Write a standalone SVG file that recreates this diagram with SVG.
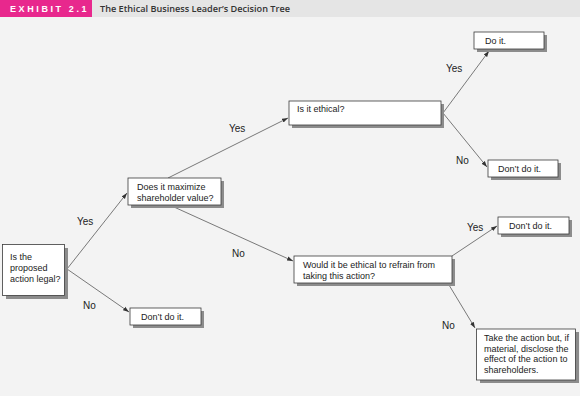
<svg xmlns="http://www.w3.org/2000/svg" width="580" height="396" viewBox="0 0 580 396">
<style>
.box{fill:#ffffff;stroke:#3a3a3a;stroke-width:0.8}
.sh{fill:#8c8c8c}
.t{font-family:"Liberation Sans",Arial,sans-serif;font-size:9px;fill:#222}
.lb{font-family:"Liberation Sans",Arial,sans-serif;font-size:10px;fill:#222}
.c{stroke:#444;stroke-width:0.7;fill:none;marker-end:url(#ah)}
</style>
<defs>
<marker id="ah" viewBox="0 0 10 10" refX="10" refY="5" markerWidth="6" markerHeight="6" orient="auto" markerUnits="userSpaceOnUse">
<path d="M0,1.5 L10,5 L0,8.5 z" fill="#333"/>
</marker>
</defs>
<rect x="0" y="0" width="580" height="396" fill="#f3f3f3"/>
<g id="header">
<rect x="0" y="0" width="580" height="17" fill="#e5e5e5"/>
<rect x="0" y="0" width="92" height="17" fill="#e8288d"/>
<text x="10" y="12.3" font-family="'Liberation Sans',Arial,sans-serif" font-size="9" font-weight="bold" fill="#ffffff" letter-spacing="2.6">EXHIBIT 2.1</text>
<text x="100" y="12.3" font-family="'Open Sans','Liberation Sans',Arial,sans-serif" font-size="9" font-weight="600" fill="#333" textLength="190" lengthAdjust="spacingAndGlyphs">The Ethical Business Leader’s Decision Tree</text>
</g>
<g id="connectors">
<line class="c" x1="67" y1="269" x2="127" y2="193"/>
<line class="c" x1="67" y1="269" x2="129" y2="312"/>
<line class="c" x1="168" y1="178" x2="288" y2="118"/>
<line class="c" x1="174" y1="207" x2="293" y2="261"/>
<line class="c" x1="443" y1="113" x2="489" y2="51"/>
<line class="c" x1="443" y1="113" x2="487" y2="167"/>
<line class="c" x1="452" y1="256" x2="497" y2="226"/>
<line class="c" x1="449" y1="285" x2="475" y2="328"/>
<text class="lb" x="77" y="225">Yes</text>
<text class="lb" x="83" y="309">No</text>
<text class="lb" x="229" y="132">Yes</text>
<text class="lb" x="232" y="257">No</text>
<text class="lb" x="446" y="72">Yes</text>
<text class="lb" x="456" y="164">No</text>
<text class="lb" x="467" y="231">Yes</text>
<text class="lb" x="442" y="329">No</text>
</g>
<g id="n1">
<rect class="sh" x="6" y="248" width="62" height="51"/>
<rect class="box" x="2.5" y="244.5" width="62" height="51"/>
<text class="t" x="10" y="260">Is the</text>
<text class="t" x="10" y="271">proposed</text>
<text class="t" x="10" y="282">action legal?</text>
</g>
<g id="n2">
<rect class="sh" x="131" y="181" width="93" height="27"/>
<rect class="box" x="128" y="178" width="93" height="27"/>
<text class="t" x="137" y="190">Does it maximize</text>
<text class="t" x="137" y="201">shareholder value?</text>
</g>
<g id="n3">
<rect class="sh" x="133" y="311" width="71" height="17"/>
<rect class="box" x="130" y="308" width="71" height="17"/>
<text class="t" x="141" y="320">Don’t do it.</text>
</g>
<g id="n4">
<rect class="sh" x="292" y="104" width="152" height="24"/>
<rect class="box" x="289" y="101" width="152" height="24"/>
<text class="t" x="297" y="112">Is it ethical?</text>
</g>
<g id="n5">
<rect class="sh" x="477" y="35" width="70" height="17"/>
<rect class="box" x="474" y="32" width="70" height="17"/>
<text class="t" x="485" y="44">Do it.</text>
</g>
<g id="n6">
<rect class="sh" x="491" y="163" width="70" height="17"/>
<rect class="box" x="488" y="160" width="70" height="17"/>
<text class="t" x="498" y="172">Don’t do it.</text>
</g>
<g id="n7">
<rect class="sh" x="297" y="259" width="158" height="27"/>
<rect class="box" x="294" y="256" width="158" height="27"/>
<text class="t" x="303" y="268">Would it be ethical to refrain from</text>
<text class="t" x="303" y="279">taking this action?</text>
</g>
<g id="n8">
<rect class="sh" x="501" y="220" width="71" height="17"/>
<rect class="box" x="498" y="217" width="71" height="17"/>
<text class="t" x="509" y="229">Don’t do it.</text>
</g>
<g id="n9">
<rect class="sh" x="480" y="332" width="99" height="51"/>
<rect class="box" x="476.5" y="329" width="99" height="51"/>
<text class="t" x="484" y="341">Take the action but, if</text>
<text class="t" x="484" y="351.5">material, disclose the</text>
<text class="t" x="484" y="362">effect of the action to</text>
<text class="t" x="484" y="372.5">shareholders.</text>
</g>
</svg>
